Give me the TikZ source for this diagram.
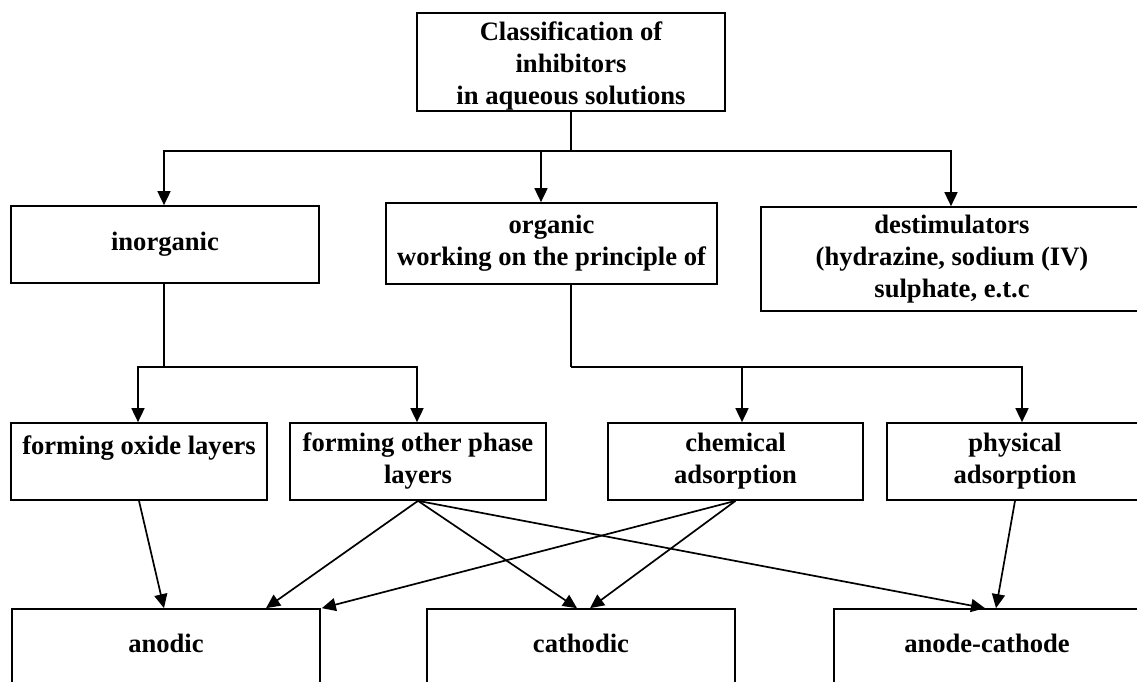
\documentclass[tikz,border=0pt]{standalone}
\usepackage{fontspec}
\setmainfont{Liberation Serif}
\usetikzlibrary{arrows.meta}
\begin{document}
\begin{tikzpicture}[x=1pt,y=-1pt,
  bx/.style={draw, line width=1.7pt, inner sep=0pt, align=center,
    font=\bfseries\fontsize{26.6}{32}\selectfont},
  txt/.style={inner sep=0pt, align=center, font=\bfseries\fontsize{26.6}{32}\selectfont},
  ln/.style={line width=1.7pt},
  arr/.style={line width=1.7pt, -{Triangle[length=14pt,width=13pt]}}]
\useasboundingbox (0,0) rectangle (1137,682);
% boxes
\node[bx, minimum width=308pt, minimum height=98pt] (top) at (571,62) {};
\node[txt] (topt) at ([yshift=-4pt]top.center)
  {Classification of\\inhibitors\\in aqueous solutions};
\node[bx, minimum width=308pt, minimum height=77pt] (inorg) at (165,244.5) {inorganic};
\node[bx, minimum width=331pt, minimum height=81pt] (org) at (551.5,243.5)
  {organic\\working on the principle of};
\node[bx, minimum width=382pt, minimum height=104pt] (dest) at (952,259)
  {destimulators\\(hydrazine, sodium (IV)\\sulphate, e.t.c};
\node[bx, minimum width=256pt, minimum height=77pt] (oxide) at (139,461.5)
  {forming oxide layers\\\mbox{}};
\node[bx, minimum width=256pt, minimum height=77pt] (other) at (418,461.5)
  {forming other phase\\layers};
\node[bx, minimum width=255pt, minimum height=77pt] (chem) at (735.5,461.5)
  {chemical\\adsorption};
\node[bx, minimum width=256pt, minimum height=77pt] (phys) at (1015,461.5)
  {physical\\adsorption};
\node[bx, minimum width=308pt, minimum height=81pt] (anod) at (166,649.5) {};
\node[txt] (anodt) at ([yshift=6.5pt]anod.center) {anodic};
\node[bx, minimum width=308pt, minimum height=81pt] (cath) at (581,649.5) {};
\node[txt] (catht) at ([yshift=6.5pt]cath.center) {cathodic};
\node[bx, minimum width=306pt, minimum height=81pt] (ac) at (987,649.5) {};
\node[txt] (act) at ([yshift=6.5pt]ac.center) {anode-cathode};
% junctions
\coordinate (j1) at (571,151);
\coordinate (j2) at (164,367);
\coordinate (j3) at (571,367);
% top level
\draw[ln] (top.south) -- (j1);
\draw[arr] (j1) -| ([xshift=-1pt]inorg.north);
\draw[arr] (j1) -| ([xshift=-1pt]dest.north);
\draw[arr] ([xshift=-10.5pt]org.north |- j1) -- ([xshift=-10.5pt]org.north);
% inorganic
\draw[ln] ([xshift=-1pt]inorg.south) -- (j2);
\draw[arr] (j2) -| ([xshift=-1pt]oxide.north);
\draw[arr] (j2) -| ([xshift=-1pt]other.north);
% organic
\draw[ln] ([xshift=19.5pt]org.south) -- (j3);
\draw[arr] (j3) -| ([xshift=6.5pt]chem.north);
\draw[arr] (j3) -| ([xshift=7pt]phys.north);
% bottom connectors
\draw[arr] (oxide.south) -- ([xshift=-2pt]anod.north);
\draw[arr] (other.south) -- ([xshift=100pt]anod.north);
\draw[arr] (other.south) -- ([xshift=-4pt]cath.north);
\draw[arr] (other.south) -- ([xshift=-2pt]ac.north);
\draw[arr] (chem.south) -- ([xshift=1pt]anod.north east);
\draw[arr] (chem.south) -- ([xshift=9pt]cath.north);
\draw[arr] (phys.south) -- ([xshift=9pt]ac.north);
\end{tikzpicture}
\end{document}
